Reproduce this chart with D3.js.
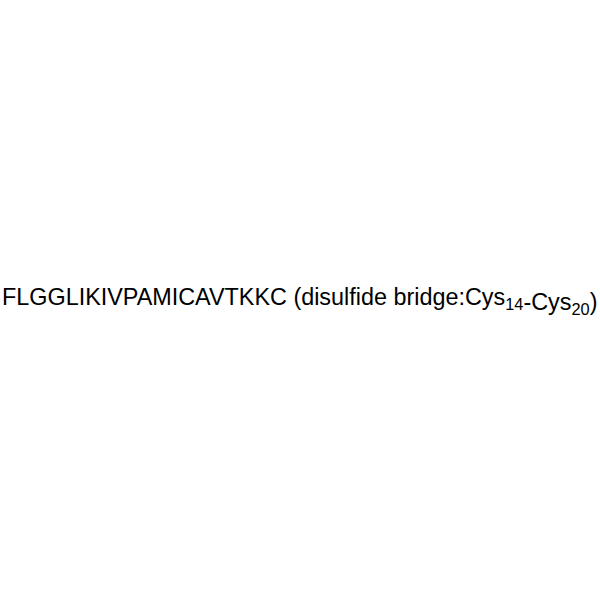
<!DOCTYPE html>
<html>
<head>
<meta charset="utf-8">
<script src="https://cdn.jsdelivr.net/npm/d3@7"></script>
<style>
  body { margin: 0; background: #fff; }
  svg { display: block; }
</style>
</head>
<body>
<div id="chart"></div>
<script>
// peptide sequence and the disulfide bridge between two cysteines
const sequence = ['F','L','G','G','L','I','K','I','V','P','A','M','I','C','A','V','T','K','K','C'];
const bridgeResidue = ['Cys', 'Cys'];
const bridgePosition = [14, 20];

const width = 600, height = 600;
const fontSize = 20.5;

const svg = d3.select('#chart')
  .append('svg')
  .attr('width', width)
  .attr('height', height);

const label = svg.append('text')
  .attr('x', 2)
  .attr('y', 305)
  .style('font-family', '"Liberation Sans", Arial, sans-serif')
  .style('font-size', fontSize + 'px')
  .style('fill', '#000');

label.append('tspan').text(sequence.join('') + ' (disulfide bridge:');

bridgeResidue.forEach((res, i) => {
  label.append('tspan').text((i > 0 ? '-' : '') + res);
  label.append('tspan')
    .attr('dy', 5)
    .style('font-size', (fontSize * 0.7) + 'px')
    .text(bridgePosition[i]);
  label.append('tspan').attr('dy', -5).text(i === bridgeResidue.length - 1 ? ')' : '');
});

// stretch the line so it spans the width like the original
const w = label.node().getComputedTextLength();
const target = 596;
if (Math.abs(w - target) > 1) {
  const s = fontSize * target / w;
  label.style('font-size', s + 'px');
  label.selectAll('tspan').filter((d, i, n) => n[i].style.fontSize)
    .style('font-size', (s * 0.7) + 'px');
}
</script>
</body>
</html>
